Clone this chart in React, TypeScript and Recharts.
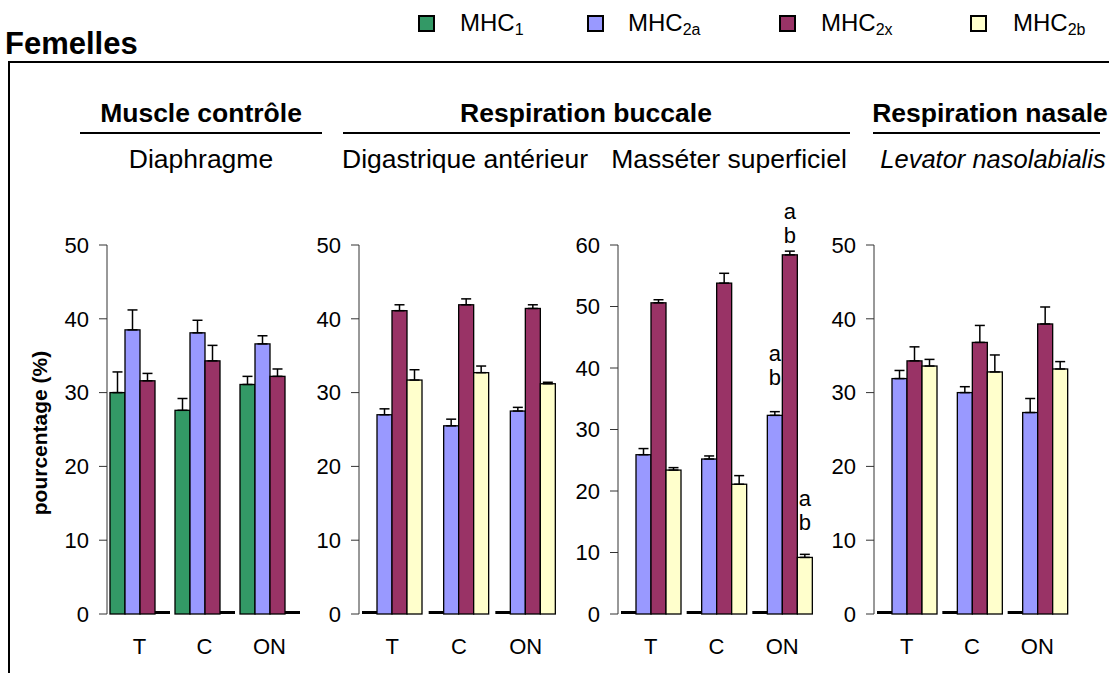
import React from 'react';
import { BarChart, Bar, XAxis, YAxis, ErrorBar, LabelList } from 'recharts';

const FONT = '"Liberation Sans", Arial, Helvetica, sans-serif';

const categories = ['T', 'C', 'ON'];
const seriesNames = ['1', '2a', '2x', '2b'];
const seriesColors = ['#339966', '#9999FF', '#993366', '#FFFFCC'];
const ticks50 = [0, 10, 20, 30, 40, 50];
const ticks60 = [0, 10, 20, 30, 40, 50, 60];

// Diaphragme (muscle contrôle)
const diaMHC1 = [30.0, 27.6, 31.1];
const diaMHC1Err = [2.8, 1.6, 1.1];
const diaMHC2a = [38.5, 38.1, 36.6];
const diaMHC2aErr = [2.7, 1.7, 1.1];
const diaMHC2x = [31.6, 34.3, 32.2];
const diaMHC2xErr = [1.0, 2.1, 1.0];
const diaMHC2b = [0, 0, 0];
const diaMHC2bErr = [0, 0, 0];

// Digastrique antérieur
const digMHC1 = [0, 0, 0];
const digMHC1Err = [0, 0, 0];
const digMHC2a = [27.0, 25.5, 27.5];
const digMHC2aErr = [0.8, 0.9, 0.5];
const digMHC2x = [41.1, 41.9, 41.4];
const digMHC2xErr = [0.8, 0.8, 0.5];
const digMHC2b = [31.7, 32.7, 31.2];
const digMHC2bErr = [1.4, 0.9, 0.2];

// Masséter superficiel
const masMHC1 = [0, 0, 0];
const masMHC1Err = [0, 0, 0];
const masMHC2a = [25.9, 25.2, 32.3];
const masMHC2aErr = [1.0, 0.5, 0.6];
const masMHC2x = [50.6, 53.8, 58.4];
const masMHC2xErr = [0.5, 1.6, 0.6];
const masMHC2b = [23.4, 21.1, 9.2];
const masMHC2bErr = [0.4, 1.4, 0.5];
const masSig2a = ['', '', 'ab'];
const masSig2x = ['', '', 'ab'];
const masSig2b = ['', '', 'ab'];

// Levator nasolabialis
const levMHC1 = [0, 0, 0];
const levMHC1Err = [0, 0, 0];
const levMHC2a = [31.9, 30.0, 27.3];
const levMHC2aErr = [1.1, 0.8, 1.9];
const levMHC2x = [34.3, 36.8, 39.3];
const levMHC2xErr = [1.9, 2.3, 2.3];
const levMHC2b = [33.6, 32.8, 33.2];
const levMHC2bErr = [0.9, 2.3, 1.0];

const emptySig = ['', '', ''];

function buildRows(vals: number[][], errs: number[][], sigs: string[][]) {
  return categories.map((cat, c) => {
    const row: any = { cat };
    vals.forEach((v, i) => {
      row['v' + i] = v[c];
      row['e' + i] = [0, errs[i][c]];
      row['s' + i] = sigs[i][c];
    });
    return row;
  });
}

const diaRows = buildRows(
  [diaMHC1, diaMHC2a, diaMHC2x, diaMHC2b],
  [diaMHC1Err, diaMHC2aErr, diaMHC2xErr, diaMHC2bErr],
  [emptySig, emptySig, emptySig, emptySig]
);
const digRows = buildRows(
  [digMHC1, digMHC2a, digMHC2x, digMHC2b],
  [digMHC1Err, digMHC2aErr, digMHC2xErr, digMHC2bErr],
  [emptySig, emptySig, emptySig, emptySig]
);
const masRows = buildRows(
  [masMHC1, masMHC2a, masMHC2x, masMHC2b],
  [masMHC1Err, masMHC2aErr, masMHC2xErr, masMHC2bErr],
  [emptySig, masSig2a, masSig2x, masSig2b]
);
const levRows = buildRows(
  [levMHC1, levMHC2a, levMHC2x, levMHC2b],
  [levMHC1Err, levMHC2aErr, levMHC2xErr, levMHC2bErr],
  [emptySig, emptySig, emptySig, emptySig]
);

const makeShape = (key: string, color: string) => (p: any) => {
  const v = p.payload ? p.payload[key] : p.value;
  if (!v) {
    return <rect x={p.x} y={p.y} width={p.width} height={p.height} fill="#000" />;
  }
  return (
    <rect x={p.x} y={p.y} width={p.width} height={p.height} fill={color} stroke="#000" strokeWidth={1.3} />
  );
};

const makeSig = (gap: number) => (p: any) => {
  const val = p.value;
  if (!val) return null;
  const vb = p.viewBox && p.viewBox.width !== undefined ? p.viewBox : p;
  const cx = vb.x + vb.width / 2;
  const top = vb.y;
  const letters = String(val).split('');
  return (
    <g>
      {letters.map((l, k) => (
        <text
          key={k}
          x={cx}
          y={top - gap - (letters.length - 1 - k) * 24}
          textAnchor="middle"
          fontSize={22}
          fontFamily={FONT}
          fill="#000"
        >
          {l}
        </text>
      ))}
    </g>
  );
};

const PLOT_TOP = 245;
const PLOT_H = 369;
const TOP_M = 60;
const AX_W = 70;

function Panel({ left, width, yMax, ticks, rows, sigGaps }: any) {
  return (
    <div style={{ position: 'absolute', left: left - AX_W, top: PLOT_TOP - TOP_M }}>
      <BarChart
        width={AX_W + width + 10}
        height={TOP_M + PLOT_H + 60}
        data={rows}
        margin={{ top: TOP_M, right: 10, left: 0, bottom: 0 }}
        barCategoryGap={3}
        barGap={0}
      >
        <XAxis
          dataKey="cat"
          axisLine={false}
          tickLine={false}
          tickSize={0}
          tickMargin={24}
          height={60}
          interval={0}
          tick={{ fontSize: 22, fill: '#000', fontFamily: FONT }}
        />
        <YAxis
          domain={[0, yMax]}
          ticks={ticks}
          interval={0}
          width={AX_W}
          axisLine={{ stroke: '#333', strokeWidth: 1 }}
          tickLine={{ stroke: '#333', strokeWidth: 1 }}
          tickSize={8}
          tickMargin={10}
          tick={{ fontSize: 22, fill: '#000', fontFamily: FONT }}
        />
        {seriesColors.map((color, i) => {
          const hasValues = rows.some((r: any) => r['v' + i] !== 0);
          const hasSig = rows.some((r: any) => r['s' + i]);
          return (
            <Bar
              key={i}
              dataKey={'v' + i}
              fill={color}
              minPointSize={3}
              isAnimationActive={false}
              shape={makeShape('v' + i, color)}
            >
              {hasValues && (
                <ErrorBar dataKey={'e' + i} direction="y" width={5} stroke="#000" strokeWidth={1.5} />
              )}
              {hasSig && <LabelList dataKey={'s' + i} content={makeSig(sigGaps ? sigGaps[i] : 20)} />}
            </Bar>
          );
        })}
      </BarChart>
    </div>
  );
}

function LegendItem({ x, tx, i }: any) {
  return (
    <g>
      <rect x={x} y={16} width={15} height={15} fill={seriesColors[i]} stroke="#000" strokeWidth={2} />
      <text x={tx} y={31} fontSize={24} fontFamily={FONT} fill="#000">
        MHC
        <tspan fontSize={16} dy={4}>
          {seriesNames[i]}
        </tspan>
      </text>
    </g>
  );
}

export default function App() {
  const legendSquares = [419, 588, 780, 971];
  const legendTexts = [460, 628, 821, 1013];
  return (
    <div
      style={{
        position: 'absolute',
        left: 0,
        top: 0,
        width: 1109,
        height: 673,
        background: '#fff',
        overflow: 'hidden',
        fontFamily: FONT,
      }}
    >
      <svg width={1109} height={673} style={{ position: 'absolute', left: 0, top: 0 }}>
        <text x={5} y={54} fontSize={31} fontWeight="bold" fontFamily={FONT} fill="#000">
          Femelles
        </text>
        {legendSquares.map((x, i) => (
          <LegendItem key={i} x={x} tx={legendTexts[i]} i={i} />
        ))}
        <line x1={9} y1={62} x2={1109} y2={62} stroke="#000" strokeWidth={2} />
        <line x1={9} y1={61} x2={9} y2={673} stroke="#000" strokeWidth={2} />

        <g fontFamily={FONT} fill="#000">
          <text x={201} y={122} fontSize={26.5} fontWeight="bold" textAnchor="middle">
            Muscle contrôle
          </text>
          <text x={586} y={122} fontSize={26.5} fontWeight="bold" textAnchor="middle">
            Respiration buccale
          </text>
          <text x={990} y={122} fontSize={26.5} fontWeight="bold" textAnchor="middle">
            Respiration nasale
          </text>
          <text x={201} y={168} fontSize={26.5} textAnchor="middle">
            Diaphragme
          </text>
          <text x={465} y={168} fontSize={26.5} textAnchor="middle">
            Digastrique antérieur
          </text>
          <text x={729} y={168} fontSize={26.5} textAnchor="middle">
            Masséter superficiel
          </text>
          <text x={993} y={168} fontSize={25.5} fontStyle="italic" textAnchor="middle">
            Levator nasolabialis
          </text>
          <text
            x={0}
            y={0}
            fontSize={21}
            fontWeight="bold"
            textAnchor="middle"
            transform="translate(47,433) rotate(-90)"
          >
            pourcentage (%)
          </text>
        </g>
        <line x1={80} y1={133} x2={322} y2={133} stroke="#000" strokeWidth={2} />
        <line x1={343} y1={133} x2={850} y2={133} stroke="#000" strokeWidth={2} />
        <line x1={873} y1={133} x2={1100} y2={133} stroke="#000" strokeWidth={2} />
      </svg>

      <Panel left={107} width={195} yMax={50} ticks={ticks50} rows={diaRows} />
      <Panel left={359} width={200} yMax={50} ticks={ticks50} rows={digRows} />
      <Panel left={618} width={197} yMax={60} ticks={ticks60} rows={masRows} sigGaps={[20, 30, 12, 27]} />
      <Panel left={874} width={196} yMax={50} ticks={ticks50} rows={levRows} />
    </div>
  );
}
